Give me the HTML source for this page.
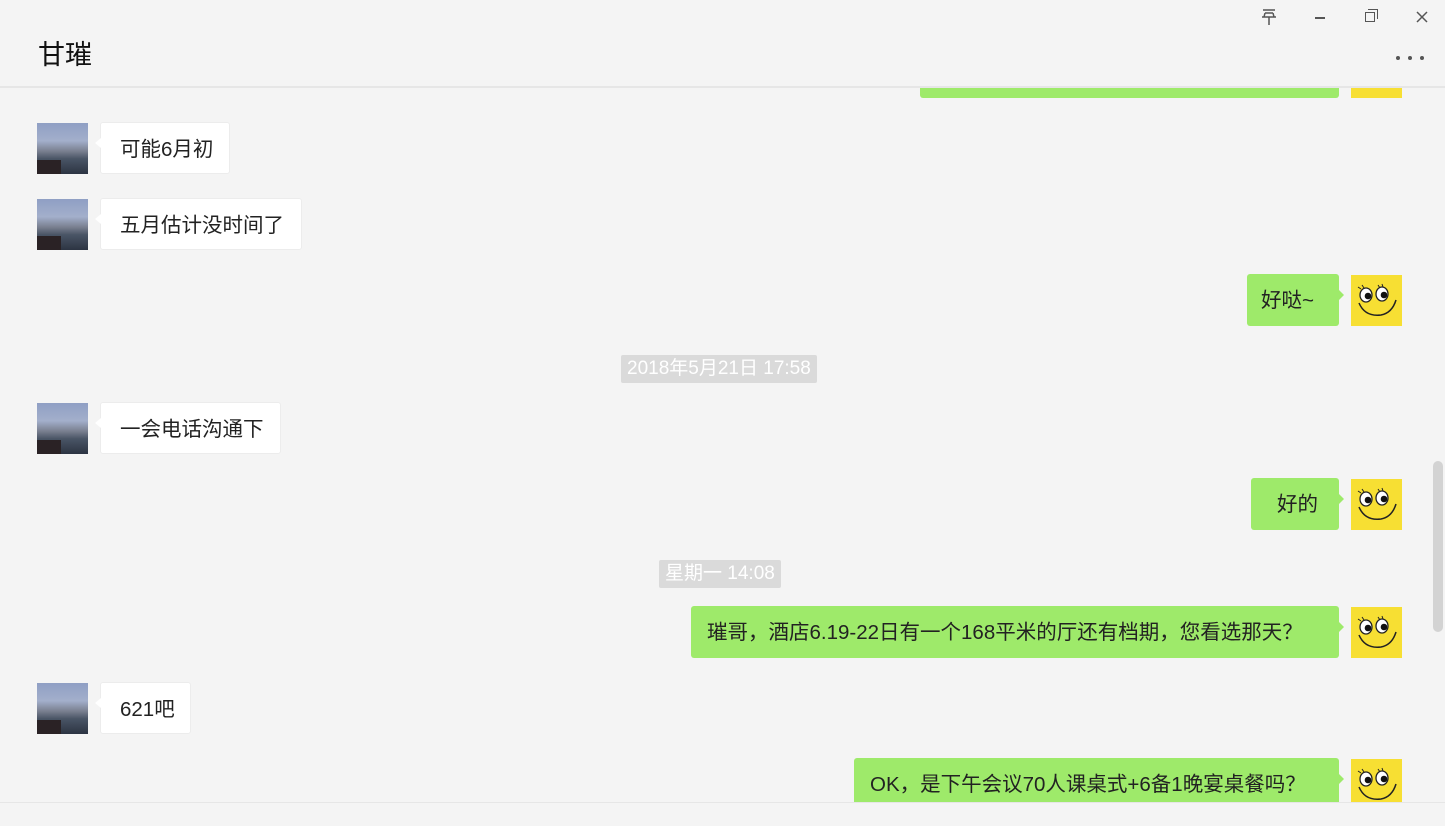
<!DOCTYPE html>
<html><head><meta charset="utf-8"><style>
*{margin:0;padding:0;box-sizing:border-box}
body{width:1445px;height:826px;background:#f4f4f4;position:relative;overflow:hidden;font-family:"Liberation Sans","Noto Sans CJK SC",sans-serif;color:#222}
.a{position:absolute}
.hdr{left:0;top:0;width:1445px;height:88px;background:#f4f4f4;border-bottom:2px solid #e6e6e6;z-index:5}
.title{left:38px;top:33px;font-size:27px;color:#111}
.av{position:absolute;width:51px;height:51px;background:linear-gradient(180deg,#8f9fc4 0%,#a3afcb 35%,#7a8090 55%,#4a5566 70%,#2c3442 100%)}
.av::after{content:"";position:absolute;left:0;bottom:0;width:24px;height:14px;background:#2a2225}
.sm{position:absolute;width:51px;height:51px;background:#f7df33}
.b{position:absolute;height:52px;font-size:20.5px;line-height:54px;border-radius:3px;padding:0 19px;white-space:nowrap}
.l{background:#fff;border:1px solid #ececec}
.l::before{content:"";position:absolute;left:-6px;top:15px;border:5px solid transparent;border-right:6px solid #fff;border-left:0}
.r{background:#9eea6a}
.r::after{content:"";position:absolute;right:-5px;top:16px;border:5px solid transparent;border-left:5px solid #9eea6a;border-right:0}
.ts{position:absolute;background:#dadada;color:#fff;font-size:19px;line-height:28px;padding:0 6px;border-radius:2px}
</style></head><body>
<svg width="0" height="0" style="position:absolute"><defs><g id="f">
<rect width="51" height="51" fill="#f7df33"/>
<ellipse cx="15" cy="20" rx="6" ry="7" fill="#fff" stroke="#222" stroke-width="1.3"/>
<ellipse cx="31" cy="19" rx="6" ry="7" fill="#fff" stroke="#222" stroke-width="1.3"/>
<circle cx="17" cy="21" r="3.3" fill="#111"/><circle cx="33" cy="20" r="3.3" fill="#111"/>
<path d="M7 12l3 2M11 10l2 3M27 10l2 3M31 9l1 3" stroke="#222" stroke-width="1"/>
<path d="M8 28 Q14 42 30 40 Q41 38 45 25" fill="none" stroke="#222" stroke-width="1.5"/>
</g></defs></svg>
<div class="a hdr"><div class="a title">甘璀</div>
<svg class="a" style="left:1261px;top:9px" width="16" height="16"><path d="M2 1h12M4 4h8M1 8h14M4 4l-1 4M12 4l1 4M8 8v8" stroke="#555" stroke-width="1.5" fill="none"/></svg>
<div class="a" style="left:1315px;top:17px;width:10px;height:1.5px;background:#555"></div>
<div class="a" style="left:1365px;top:12px;width:10px;height:10px;border:1.5px solid #555;background:#f4f4f4"></div>
<div class="a" style="left:1368px;top:9px;width:10px;height:10px;border-top:1.5px solid #555;border-right:1.5px solid #555"></div>
<svg class="a" style="left:1416px;top:11px" width="12" height="12"><path d="M1 1l10 10M11 1L1 11" stroke="#555" stroke-width="1.5"/></svg>
<div class="a" style="left:1396px;top:56px;width:4px;height:4px;border-radius:2px;background:#555;box-shadow:12px 0 #555,24px 0 #555"></div>
</div>
<div class="b r" style="left:920px;top:46px;width:419px"></div>
<svg class="sm" style="left:1351px;top:47px"><use href="#f"/></svg>

<div class="av" style="left:37px;top:123px"></div><div class="b l" style="left:100px;top:122px;width:130px">可能6月初</div>
<div class="av" style="left:37px;top:199px"></div><div class="b l" style="left:100px;top:198px;width:202px">五月估计没时间了</div>
<div class="b r" style="left:1247px;top:274px;width:92px;padding-left:14px">好哒~</div><svg class="sm" style="left:1351px;top:275px"><use href="#f"/></svg>
<div class="ts" style="left:621px;top:355px">2018年5月21日 17:58</div>
<div class="av" style="left:37px;top:403px"></div><div class="b l" style="left:100px;top:402px;width:181px">一会电话沟通下</div>
<div class="b r" style="left:1251px;top:478px;width:88px;padding-left:26px">好的</div><svg class="sm" style="left:1351px;top:479px"><use href="#f"/></svg>
<div class="ts" style="left:659px;top:560px">星期一 14:08</div>
<div class="b r" style="left:691px;top:606px;width:648px;padding-left:16px">璀哥，酒店6.19-22日有一个168平米的厅还有档期，您看选那天？</div><svg class="sm" style="left:1351px;top:607px"><use href="#f"/></svg>
<div class="av" style="left:37px;top:683px"></div><div class="b l" style="left:100px;top:682px;width:91px">621吧</div>
<div class="b r" style="left:854px;top:758px;width:485px;padding-left:16px">OK，是下午会议70人课桌式+6备1晚宴桌餐吗？</div><svg class="sm" style="left:1351px;top:759px"><use href="#f"/></svg>
<div class="a" style="left:1433px;top:461px;width:10px;height:171px;border-radius:5px;background:#d3d3d3"></div>
<div class="a" style="left:0;top:802px;width:1445px;height:24px;background:#f4f4f4;border-top:1px solid #e6e6e6"></div>
</body></html>
